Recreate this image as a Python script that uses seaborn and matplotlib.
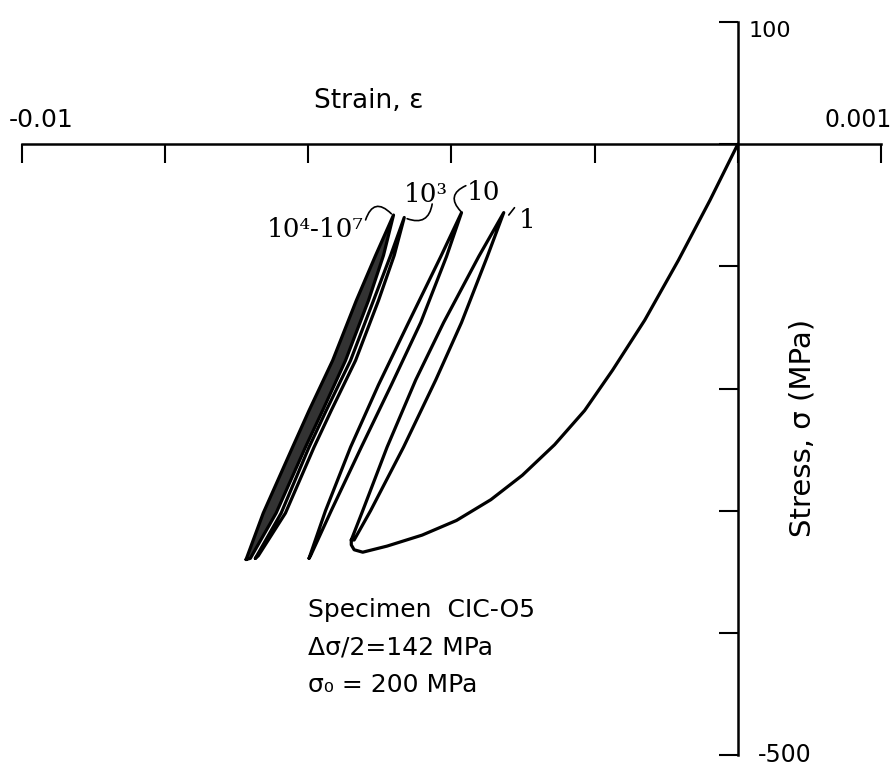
import numpy as np
import pandas as pd
import matplotlib
matplotlib.use("Agg")
import matplotlib.pyplot as plt
import seaborn as sns

# ---------------- data ----------------
# monotonic first loading curve
mono_strain = [0.0, -0.00039, -0.00083, -0.00130, -0.00175, -0.00214, -0.00256,
               -0.00301, -0.00345, -0.00393, -0.00441, -0.00490, -0.00524,
               -0.00536, -0.00540, -0.00540]
mono_stress = [0, -46, -95, -144, -185, -218, -246, -271, -291, -308, -320,
               -329, -334, -332, -328, -324]

# cycle N = 1 loop
n1_strain = [-0.00540, -0.00524, -0.00490, -0.00450, -0.00411, -0.00362, -0.00327,
             -0.00350, -0.00386, -0.00422, -0.00467, -0.00513, -0.00536, -0.00540]
n1_stress = [-324, -300, -248, -193, -146, -92, -56,
             -92, -146, -193, -248, -300, -324, -324]

# cycle N = 10 loop
n10_strain = [-0.00599, -0.00576, -0.00541, -0.00502, -0.00460, -0.00415, -0.00386,
              -0.00407, -0.00443, -0.00484, -0.00526, -0.00568, -0.00597, -0.00599]
n10_stress = [-339, -300, -248, -197, -146, -92, -56,
              -92, -146, -197, -248, -300, -337, -339]

# cycle N = 10^3 loop
n1e3_strain = [-0.00674, -0.00638, -0.00599, -0.00575, -0.00541, -0.00509, -0.00485, -0.00466,
               -0.00480, -0.00502, -0.00534, -0.00568, -0.00592, -0.00632, -0.00670, -0.00674]
n1e3_stress = [-339, -302, -248, -218, -177, -128, -91, -60,
               -91, -128, -177, -218, -248, -302, -337, -339]

# cycles N = 10^4 - 10^7 loop
n1e4_strain = [-0.00687, -0.00663, -0.00622, -0.00599, -0.00566, -0.00533, -0.00506, -0.00481,
               -0.00495, -0.00516, -0.00548, -0.00580, -0.00604, -0.00645, -0.00681, -0.00687]
n1e4_stress = [-340, -302, -248, -218, -177, -128, -91, -58,
               -91, -128, -177, -218, -248, -302, -339, -340]

x_ticks = [-0.010, -0.008, -0.006, -0.004, -0.002, 0.0, 0.002]
y_ticks = [100, 0, -100, -200, -300, -400, -500]
x_end_labels = ["-0.01", "0.001"]
y_end_labels = ["100", "-500"]
cycle_labels = ["10\u2074-10\u2077", "10\u00b3", "10", "1"]
info_lines = ["Specimen  CIC-O5", "\u0394\u03c3/2=142 MPa", "\u03c3\u2080 = 200 MPa"]

# ---------------- figure ----------------
sns.set_style("white")
plt.rcParams["font.family"] = ["DejaVu Sans"]
plt.rcParams["text.color"] = "black"

fig = plt.figure(figsize=(8.94, 7.72), dpi=100)
ax = fig.add_axes([22 / 894, 1 - 755 / 772, 859 / 894, 733 / 772])
ax.set_xlim(-0.010, 0.002)
ax.set_ylim(-500, 100)

lw = 2.3
curves = [(mono_strain, mono_stress), (n1_strain, n1_stress), (n10_strain, n10_stress),
          (n1e3_strain, n1e3_stress), (n1e4_strain, n1e4_stress)]
for xs, ys in curves:
    df = pd.DataFrame({"strain": xs, "stress": ys})
    sns.lineplot(data=df, x="strain", y="stress", sort=False, estimator=None,
                 color="black", lw=lw, ax=ax, legend=False,
                 solid_joinstyle="round", solid_capstyle="round")

# stippled band of the 10^4-10^7 loops
ax.fill(n1e4_strain, n1e4_stress, facecolor="0.2", edgecolor="none", zorder=1)

# ---------------- axes styling ----------------
for s in ["left", "bottom"]:
    ax.spines[s].set_visible(False)
ax.spines["top"].set_position(("data", 0))
ax.spines["right"].set_position(("data", 0))
ax.spines["top"].set_linewidth(1.8)
ax.spines["right"].set_linewidth(1.8)
ax.spines["top"].set_color("black")
ax.spines["right"].set_color("black")
ax.xaxis.set_ticks_position("top")
ax.yaxis.set_ticks_position("right")
ax.set_xticks(x_ticks)
ax.set_yticks(y_ticks)
ax.set_xticklabels([])
ax.set_yticklabels([])
ax.tick_params(axis="both", direction="in", length=14, width=1.5, color="black")
ax.set_xlabel("")
ax.set_ylabel("")

# end labels of axes
ax.text(-0.00973, 20, x_end_labels[0], fontsize=18, ha="center", va="center")
ax.text(0.00168, 20, x_end_labels[1], fontsize=17, ha="center", va="center")
ax.text(0.00015, 93, y_end_labels[0], fontsize=16, ha="left", va="center")
ax.text(0.00028, -500, y_end_labels[1], fontsize=17, ha="left", va="center")

ax.text(-0.00515, 35, "Strain, \u03b5", fontsize=19, ha="center", va="center")
ax.text(0.00091, -232, "Stress, \u03c3 (MPa)", fontsize=21, ha="center", va="center",
        rotation=90)

# info text
for i, line in enumerate(info_lines):
    ax.text(-0.00600, -381 - 31 * i, line, fontsize=18, ha="left", va="center")

# cycle labels (serif)
serif = ["DejaVu Serif"]
ax.text(-0.00522, -76, cycle_labels[0], fontsize=19, ha="right", va="baseline", family=serif)
ax.text(-0.00467, -47, cycle_labels[1], fontsize=19, ha="left", va="baseline", family=serif)
ax.text(-0.00378, -46, cycle_labels[2], fontsize=19, ha="left", va="baseline", family=serif)
ax.text(-0.00306, -69, cycle_labels[3], fontsize=19, ha="left", va="baseline", family=serif)

# leader squiggles
leaders = [((-0.00520, -62), (-0.00484, -57), "arc3,rad=-0.8"),
           ((-0.00427, -49), (-0.00462, -61), "arc3,rad=-0.6"),
           ((-0.00380, -34), (-0.00387, -55), "arc3,rad=0.7"),
           ((-0.00312, -52), (-0.00320, -58), "arc3,rad=0.0")]
for (x0, y0), (x1, y1), cs in leaders:
    ax.annotate("", xy=(x1, y1), xytext=(x0, y0),
                arrowprops=dict(arrowstyle="-", color="black", lw=1.2,
                                connectionstyle=cs, shrinkA=0, shrinkB=0))

fig.savefig("out.png", dpi=100, facecolor="white")
